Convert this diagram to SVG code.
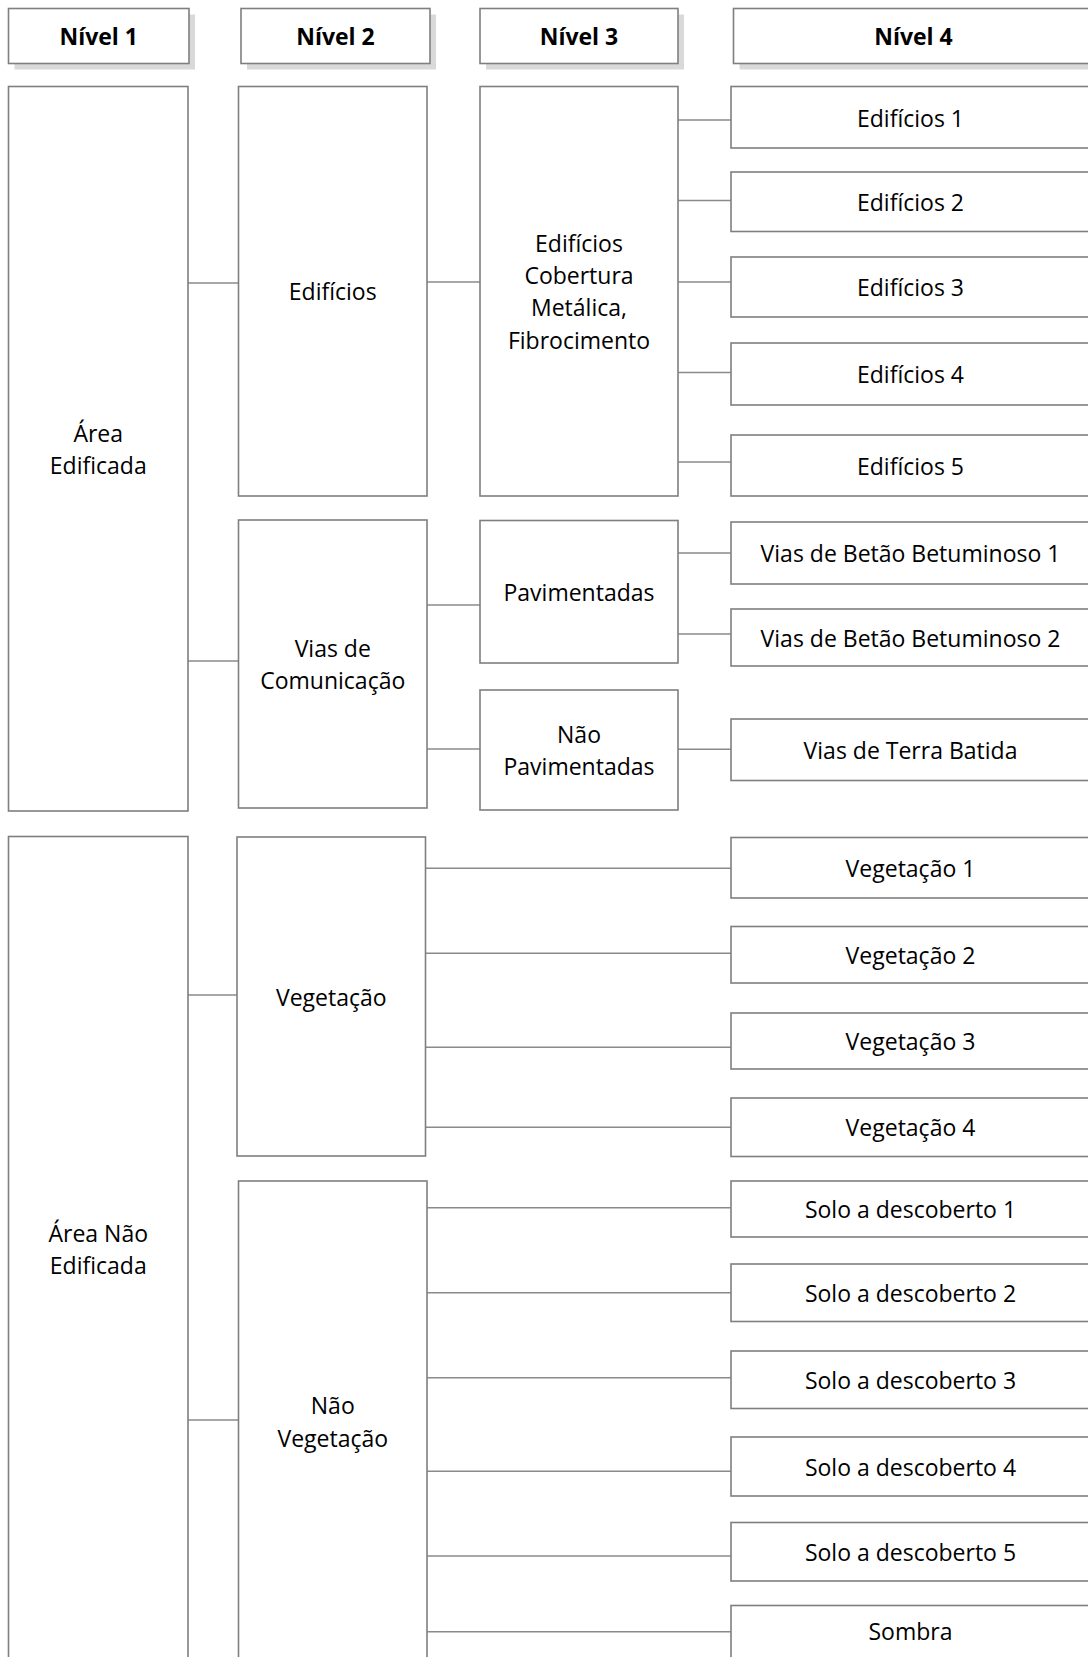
<svg xmlns="http://www.w3.org/2000/svg" width="1088" height="1657" viewBox="0 0 1088 1657">
<style>
.box{fill:#ffffff;stroke:#7f7f7f;stroke-width:1.6}
.shadow{fill:#d9d9d9;stroke:none}
.lbl{font-family:"Open Sans","Noto Sans","DejaVu Sans",sans-serif;font-size:23px;fill:#000000;text-anchor:middle}
.hdr{font-weight:bold}
.conn line{stroke:#8a8a8a;stroke-width:1.6}
</style>
<rect x="0" y="0" width="1088" height="1657" fill="#ffffff"/>
<g id="connectors" class="conn">
<line x1="188" y1="283" x2="238.5" y2="283"/>
<line x1="188" y1="661" x2="238.5" y2="661"/>
<line x1="427" y1="282" x2="480" y2="282"/>
<line x1="678" y1="120" x2="731" y2="120"/>
<line x1="678" y1="200.5" x2="731" y2="200.5"/>
<line x1="678" y1="282" x2="731" y2="282"/>
<line x1="678" y1="372.5" x2="731" y2="372.5"/>
<line x1="678" y1="462" x2="731" y2="462"/>
<line x1="427" y1="605" x2="480" y2="605"/>
<line x1="427" y1="749" x2="480" y2="749"/>
<line x1="678" y1="553" x2="731" y2="553"/>
<line x1="678" y1="634" x2="731" y2="634"/>
<line x1="678" y1="749.3" x2="731" y2="749.3"/>
<line x1="188" y1="995" x2="237" y2="995"/>
<line x1="188" y1="1420" x2="238.5" y2="1420"/>
<line x1="425.5" y1="868.3" x2="731" y2="868.3"/>
<line x1="425.5" y1="953.3" x2="731" y2="953.3"/>
<line x1="425.5" y1="1047.3" x2="731" y2="1047.3"/>
<line x1="425.5" y1="1127.3" x2="731" y2="1127.3"/>
<line x1="427" y1="1207.7" x2="731" y2="1207.7"/>
<line x1="427" y1="1292.7" x2="731" y2="1292.7"/>
<line x1="427" y1="1377.7" x2="731" y2="1377.7"/>
<line x1="427" y1="1471.3" x2="731" y2="1471.3"/>
<line x1="427" y1="1556" x2="731" y2="1556"/>
<line x1="427" y1="1631.7" x2="731" y2="1631.7"/>
</g>
<g id="h1"><rect class="shadow" x="14.5" y="14.5" width="180.5" height="55"/><rect class="box" x="8.5" y="8.5" width="180.5" height="55"/><text class="lbl hdr" x="98.75" y="44.5">Nível 1</text></g>
<g id="h2"><rect class="shadow" x="247" y="14.5" width="189" height="55"/><rect class="box" x="241" y="8.5" width="189" height="55"/><text class="lbl hdr" x="335.5" y="44.5">Nível 2</text></g>
<g id="h3"><rect class="shadow" x="486" y="14.5" width="198" height="55"/><rect class="box" x="480" y="8.5" width="198" height="55"/><text class="lbl hdr" x="579" y="44.5">Nível 3</text></g>
<g id="h4"><rect class="shadow" x="739.5" y="14.5" width="360" height="55"/><rect class="box" x="733.5" y="8.5" width="360" height="55"/><text class="lbl hdr" x="913.5" y="44.5">Nível 4</text></g>

<g id="area-edificada"><rect class="box" x="8.5" y="86.5" width="179.5" height="724.5"/><text class="lbl" x="98.25" y="441.6">Área</text><text class="lbl" x="98.25" y="473.9">Edificada</text></g>
<g id="area-nao-edificada"><rect class="box" x="8.5" y="836.5" width="179.5" height="840"/><text class="lbl" x="98.25" y="1241.9">Área Não</text><text class="lbl" x="98.25" y="1274.2">Edificada</text></g>

<g id="edificios"><rect class="box" x="238.5" y="86.5" width="188.5" height="409.5"/><text class="lbl" x="332.75" y="300.3">Edifícios</text></g>
<g id="vias-comunicacao"><rect class="box" x="238.5" y="520" width="188.5" height="288"/><text class="lbl" x="332.75" y="656.9">Vias de</text><text class="lbl" x="332.75" y="689.2">Comunicação</text></g>
<g id="vegetacao"><rect class="box" x="237" y="837" width="188.5" height="319"/><text class="lbl" x="331.25" y="1005.5">Vegetação</text></g>
<g id="nao-vegetacao"><rect class="box" x="238.5" y="1181" width="188.5" height="495"/><text class="lbl" x="332.75" y="1414.4">Não</text><text class="lbl" x="332.75" y="1446.7">Vegetação</text></g>

<g id="edificios-cobertura"><rect class="box" x="480" y="86.5" width="198" height="409.5"/><text class="lbl" x="579" y="251.8">Edifícios</text><text class="lbl" x="579" y="284.1">Cobertura</text><text class="lbl" x="579" y="316.4">Metálica,</text><text class="lbl" x="579" y="348.7">Fibrocimento</text></g>
<g id="pavimentadas"><rect class="box" x="480" y="520.5" width="198" height="142.5"/><text class="lbl" x="579" y="600.8">Pavimentadas</text></g>
<g id="nao-pavimentadas"><rect class="box" x="480" y="690" width="198" height="120"/><text class="lbl" x="579" y="742.9">Não</text><text class="lbl" x="579" y="775.2">Pavimentadas</text></g>

<g id="edificios-1"><rect class="box" x="731" y="86.5" width="360" height="61.5"/><text class="lbl" x="910.5" y="126.5">Edifícios 1</text></g>
<g id="edificios-2"><rect class="box" x="731" y="172" width="360" height="59.5"/><text class="lbl" x="910.5" y="210.8">Edifícios 2</text></g>
<g id="edificios-3"><rect class="box" x="731" y="257" width="360" height="60"/><text class="lbl" x="910.5" y="296">Edifícios 3</text></g>
<g id="edificios-4"><rect class="box" x="731" y="343" width="360" height="62"/><text class="lbl" x="910.5" y="383">Edifícios 4</text></g>
<g id="edificios-5"><rect class="box" x="731" y="435" width="360" height="61"/><text class="lbl" x="910.5" y="474.5">Edifícios 5</text></g>
<g id="vias-bb-1"><rect class="box" x="731" y="522" width="360" height="62"/><text class="lbl" x="910.5" y="562">Vias de Betão Betuminoso 1</text></g>
<g id="vias-bb-2"><rect class="box" x="731" y="609" width="360" height="57"/><text class="lbl" x="910.5" y="646.5">Vias de Betão Betuminoso 2</text></g>
<g id="vias-terra"><rect class="box" x="731" y="719" width="360" height="61.5"/><text class="lbl" x="910.5" y="758.8">Vias de Terra Batida</text></g>
<g id="vegetacao-1"><rect class="box" x="731" y="837.5" width="360" height="60.5"/><text class="lbl" x="910.5" y="876.8">Vegetação 1</text></g>
<g id="vegetacao-2"><rect class="box" x="731" y="926.5" width="360" height="56.5"/><text class="lbl" x="910.5" y="963.8">Vegetação 2</text></g>
<g id="vegetacao-3"><rect class="box" x="731" y="1013" width="360" height="56"/><text class="lbl" x="910.5" y="1050">Vegetação 3</text></g>
<g id="vegetacao-4"><rect class="box" x="731" y="1098" width="360" height="58.5"/><text class="lbl" x="910.5" y="1136.3">Vegetação 4</text></g>
<g id="solo-1"><rect class="box" x="731" y="1181" width="360" height="56"/><text class="lbl" x="910.5" y="1218">Solo a descoberto 1</text></g>
<g id="solo-2"><rect class="box" x="731" y="1264" width="360" height="57.5"/><text class="lbl" x="910.5" y="1301.8">Solo a descoberto 2</text></g>
<g id="solo-3"><rect class="box" x="731" y="1351" width="360" height="57.5"/><text class="lbl" x="910.5" y="1388.8">Solo a descoberto 3</text></g>
<g id="solo-4"><rect class="box" x="731" y="1437" width="360" height="59"/><text class="lbl" x="910.5" y="1475.5">Solo a descoberto 4</text></g>
<g id="solo-5"><rect class="box" x="731" y="1522.5" width="360" height="58.5"/><text class="lbl" x="910.5" y="1560.8">Solo a descoberto 5</text></g>
<g id="sombra"><rect class="box" x="731" y="1605.5" width="360" height="70"/><text class="lbl" x="910.5" y="1640">Sombra</text></g>
</svg>
